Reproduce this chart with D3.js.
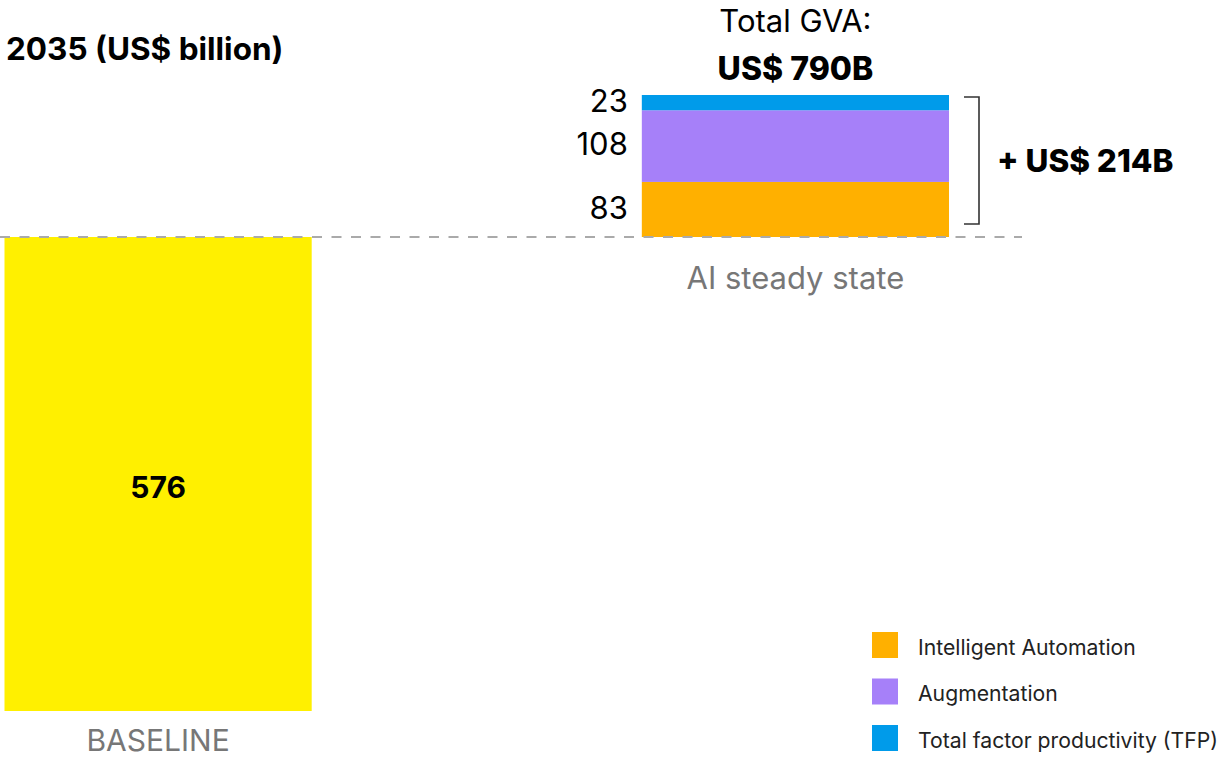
<!DOCTYPE html>
<html>
<head>
<meta charset="utf-8">
<script src="https://cdn.jsdelivr.net/npm/d3@7"></script>
<style>
  html, body { margin: 0; padding: 0; background: #fff; }
  svg { display: block; font-family: Inter, "Noto Sans", sans-serif; }
</style>
</head>
<body>
<svg id="chart" width="1226" height="759"></svg>
<script>
// ---- data ----
const categories = ["BASELINE", "AI steady state"];
const baselineValue = 576;
const seriesNames = ["Intelligent Automation", "Augmentation", "Total factor productivity (TFP)"];
const seriesValues = [83, 108, 23];
const seriesColors = ["#FFB000", "#A680F9", "#009BEA"];
const baselineColor = "#FFF000";
const titleText = "2035 (US$ billion)";
const totalLabel = "Total GVA:";
const totalValueText = "US$ 790B";
const upliftText = "+ US$ 214B";

// ---- layout ----
const svg = d3.select("#chart");
const total = baselineValue + d3.sum(seriesValues);

const x = d3.scaleBand()
  .domain(categories)
  .range([4.5, 949])
  .paddingInner(0.518)
  .paddingOuter(0);

// broken (piecewise) value axis: baseline part and uplift part
const y = d3.scaleLinear()
  .domain([0, baselineValue, total])
  .range([711, 237, 95]);

// title
svg.append("text")
  .attr("x", 6).attr("y", 60)
  .attr("font-size", 31.5).attr("font-weight", 700)
  .attr("fill", "#000")
  .text(titleText);

// baseline bar
svg.append("rect")
  .attr("x", x(categories[0]))
  .attr("width", x.bandwidth())
  .attr("y", y(baselineValue))
  .attr("height", y(0) - y(baselineValue))
  .attr("fill", baselineColor);

svg.append("text")
  .attr("x", x(categories[0]) + x.bandwidth() / 2)
  .attr("y", (y(0) + y(baselineValue)) / 2 + 13)
  .attr("dy", "0.36em")
  .attr("text-anchor", "middle")
  .attr("font-size", 30).attr("font-weight", 700)
  .text(baselineValue);

// stacked uplift
let cum = baselineValue;
const stacks = seriesValues.map((v, i) => {
  const s = { name: seriesNames[i], v, y0: cum, y1: cum + v, color: seriesColors[i] };
  cum += v;
  return s;
});

svg.selectAll("rect.seg")
  .data(stacks)
  .join("rect")
  .attr("class", "seg")
  .attr("x", x(categories[1]))
  .attr("width", x.bandwidth())
  .attr("y", d => y(d.y1))
  .attr("height", d => y(d.y0) - y(d.y1))
  .attr("fill", d => d.color);

svg.selectAll("text.seglab")
  .data(stacks)
  .join("text")
  .attr("class", "seglab")
  .attr("x", x(categories[1]) - 14)
  .attr("y", d => (y(d.y0) + y(d.y1)) / 2 - 2)
  .attr("dy", "0.36em")
  .attr("text-anchor", "end")
  .attr("font-size", 31)
  .attr("fill", "#000")
  .text(d => d.v);

// dashed reference line at baseline level
svg.append("line")
  .attr("x1", 0).attr("x2", 1022)
  .attr("y1", y(baselineValue)).attr("y2", y(baselineValue))
  .attr("stroke", "#aaaaaa")
  .attr("stroke-width", 2)
  .attr("stroke-dasharray", "10,9.5");

// total label
const cx2 = x(categories[1]) + x.bandwidth() / 2;
svg.append("text")
  .attr("x", cx2).attr("y", 32)
  .attr("text-anchor", "middle")
  .attr("font-size", 31)
  .text(totalLabel);
svg.append("text")
  .attr("x", cx2).attr("y", 80)
  .attr("text-anchor", "middle")
  .attr("font-size", 32).attr("font-weight", 800)
  .text(totalValueText);

// bracket
const bx = 979, btop = y(total) + 2, bbot = y(baselineValue) - 13;
svg.append("path")
  .attr("d", `M${bx - 15},${btop}H${bx}V${bbot}H${bx - 15}`)
  .attr("fill", "none")
  .attr("stroke", "#333")
  .attr("stroke-width", 1.6);
svg.append("text")
  .attr("x", 997).attr("y", (btop + bbot) / 2)
  .attr("dy", "0.36em")
  .attr("font-size", 31.5).attr("font-weight", 800)
  .text(upliftText);

// category labels
svg.append("text")
  .attr("x", cx2).attr("y", 289)
  .attr("text-anchor", "middle")
  .attr("font-size", 31)
  .attr("fill", "#777")
  .text(categories[1]);
svg.append("text")
  .attr("x", x(categories[0]) + x.bandwidth() / 2).attr("y", 751)
  .attr("text-anchor", "middle")
  .attr("font-size", 30)
  .attr("fill", "#777")
  .text(categories[0]);

// legend
const legend = svg.append("g").attr("transform", "translate(872,632)");
const items = legend.selectAll("g")
  .data(seriesNames)
  .join("g")
  .attr("transform", (d, i) => `translate(0,${i * 46.5})`);
items.append("rect")
  .attr("width", 26).attr("height", 26)
  .attr("fill", (d, i) => seriesColors[i]);
items.append("text")
  .attr("x", 46).attr("y", 15)
  .attr("dy", "0.36em")
  .attr("font-size", 21.2)
  .attr("fill", "#222")
  .text(d => d);
</script>
</body>
</html>
